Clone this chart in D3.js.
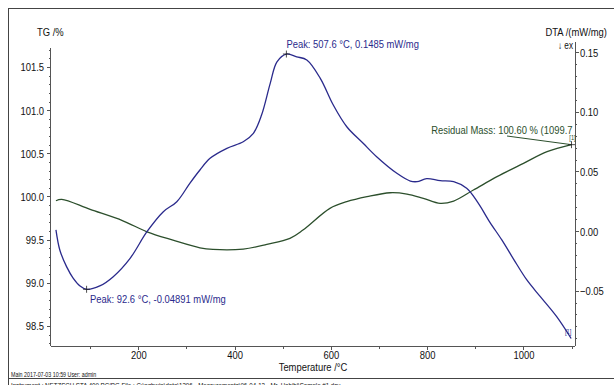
<!DOCTYPE html>
<html>
<head>
  <meta charset="utf-8">
  <script src="https://d3js.org/d3.v7.min.js"></script>
  <style>
    body { margin: 0; background: #fff; }
    text { font-family: 'Liberation Sans', Arial, sans-serif; }
    .axis path, .axis line { stroke: #555; shape-rendering: crispEdges; }
    .curve { fill: none; stroke-width: 1.3px; }
  </style>
</head>
<body>
<div id="chart"></div>
<script>

// TG curve (left axis, %)
var tgTemp = [29, 41, 100, 168, 218, 272, 328, 355, 418, 467, 515, 542, 598, 633, 675,
              723, 758, 792, 827, 855, 896, 945, 1000, 1049, 1099.7];
var tgMass = [99.95, 99.966, 99.85, 99.718, 99.59, 99.494, 99.405, 99.386, 99.39, 99.444,
              99.514, 99.61, 99.862, 99.939, 99.997, 100.043, 100.028, 99.978, 99.92, 99.947,
              100.074, 100.229, 100.384, 100.519, 100.60];

// DTA curve (right axis, mW/mg)
var dtaTemp = [29, 37, 51, 65, 79, 92.6, 120, 148, 183, 218, 252, 280, 307, 328, 349, 384,
               418, 439, 456, 474, 488, 507.6, 529, 550, 578, 605, 633, 667, 695, 737, 765,
               779, 799, 827, 855, 882, 905, 930, 955, 980, 1007, 1035, 1069, 1099];
var dtaVal  = [0.001, -0.0159, -0.0299, -0.0397, -0.0461, -0.04891, -0.0461, -0.0383, -0.0229,
               -0.0006, 0.0162, 0.0246, 0.040, 0.0512, 0.061, 0.0694, 0.0749, 0.082, 0.0973,
               0.1239, 0.142, 0.1485, 0.1462, 0.1435, 0.1281, 0.1057, 0.0875, 0.0736, 0.0623,
               0.0484, 0.0419, 0.0414, 0.0439, 0.0422, 0.0414, 0.0358, 0.024, 0.0075, -0.0075,
               -0.024, -0.0411, -0.0551, -0.0719, -0.0902];

// ticks
var tempTicks = [200, 400, 600, 800, 1000];
var tempMinor = [100, 300, 500, 700, 900, 1100];
var tgTicks = [98.5, 99.0, 99.5, 100.0, 100.5, 101.0, 101.5];
var dtaTicks = [-0.05, 0.00, 0.05, 0.10, 0.15];

// annotations
var peakHigh = { t: 507.6, v: 0.1485 };
var peakLow = { t: 92.6, v: -0.04891 };
var residual = { t: 1099.7, v: 100.60 };

var W = 614, H = 385, SX = 0.82;
var blue = "#2a2a8c", green = "#2c4f2c";

var svg = d3.select("#chart").append("svg")
    .attr("width", W).attr("height", H);

// x / y scales
var x = d3.scaleLinear().domain([18.7, 1107]).range([51, 575]);
var yTG = d3.scaleLinear().domain([98.267, 101.72]).range([346, 48]);
var yDTA = d3.scaleLinear().domain([-0.0965, 0.1586]).range([346, 42]);

// helper for the narrow-looking text
function label(g, px, py, str, anchor, size, color) {
  return g.append("text")
      .attr("transform", "translate(" + px + "," + py + ") scale(" + SX + ",1)")
      .attr("text-anchor", anchor || "start")
      .style("font-size", (size || 11.5) + "px")
      .attr("fill", color || "#111")
      .text(str);
}

// page frame
svg.append("line").attr("x1", 8).attr("x2", W).attr("y1", 8.5).attr("y2", 8.5)
    .attr("stroke", "#444");
svg.append("line").attr("x1", 8.5).attr("x2", 8.5).attr("y1", 8).attr("y2", H)
    .attr("stroke", "#444");
svg.append("line").attr("x1", 8).attr("x2", W).attr("y1", 378.5).attr("y2", 378.5)
    .attr("stroke", "#444");

// bottom axis
var gx = svg.append("g").attr("class", "axis")
    .attr("transform", "translate(0,346)")
    .call(d3.axisBottom(x).tickValues(tempTicks).tickSizeOuter(0).tickSizeInner(4)
      .tickFormat(d3.format("d")));
gx.select(".domain").attr("d", "M51,0.5H575");
gx.selectAll(".tick text").attr("y", null).attr("dy", null)
    .attr("transform", "translate(0,12.5) scale(" + SX + ",1)")
    .style("font-size", "11.5px").attr("fill", "#111");
svg.append("g").attr("class", "axis")
    .attr("transform", "translate(0,346)")
    .call(d3.axisBottom(x).tickValues(tempMinor).tickSizeOuter(0).tickSizeInner(3)
      .tickFormat(""))
    .select(".domain").remove();

// left axis (TG)
var gl = svg.append("g").attr("class", "axis")
    .attr("transform", "translate(51,0)")
    .call(d3.axisLeft(yTG).tickValues(tgTicks).tickSizeOuter(0).tickSizeInner(4)
      .tickFormat(d3.format(".1f")));
gl.select(".domain").attr("d", "M-0.5,48V346");
gl.selectAll(".tick text").attr("x", null).attr("dy", null)
    .attr("transform", "translate(-7,4) scale(" + SX + ",1)")
    .style("font-size", "11.5px").attr("fill", "#111");
svg.append("g").attr("class", "axis")
    .attr("transform", "translate(51,0)")
    .call(d3.axisLeft(yTG).tickValues(d3.range(983, 1018).map(function(d) { return d / 10; })
        .filter(function(d) { return Math.round(d * 10) % 5 !== 0; }))
      .tickSizeOuter(0).tickSizeInner(2).tickFormat(""))
    .select(".domain").remove();

// right axis (DTA)
var gr = svg.append("g").attr("class", "axis")
    .attr("transform", "translate(575,0)")
    .call(d3.axisRight(yDTA).tickValues(dtaTicks).tickSizeOuter(0).tickSizeInner(4)
      .tickFormat(d3.format(".2f")));
gr.select(".domain").attr("d", "M0.5,42V346");
gr.selectAll(".tick text").attr("x", null).attr("dy", null)
    .attr("transform", "translate(5,4) scale(" + SX + ",1)")
    .style("font-size", "11.5px").attr("fill", "#111");
svg.append("g").attr("class", "axis")
    .attr("transform", "translate(575,0)")
    .call(d3.axisRight(yDTA).tickValues(d3.range(-9, 16).map(function(d) { return d / 100; })
        .filter(function(d) { return Math.round(d * 100) % 5 !== 0; }))
      .tickSizeOuter(0).tickSizeInner(2).tickFormat(""))
    .select(".domain").remove();

// axis titles
label(svg, 37, 36, "TG /%");
label(svg, 607, 36, "DTA /(mW/mg)", "end");
label(svg, 573, 48.5, "\u2193 ex", "end", 10);
label(svg, 313, 370.5, "Temperature /\u00B0C", "middle", 11.5);

// curves
var tgLine = d3.line()
    .x(function(d, i) { return x(tgTemp[i]); })
    .y(function(d) { return yTG(d); })
    .curve(d3.curveCatmullRom);
var dtaLine = d3.line()
    .x(function(d, i) { return x(dtaTemp[i]); })
    .y(function(d) { return yDTA(d); })
    .curve(d3.curveCatmullRom);

svg.append("path").attr("class", "curve").attr("stroke", green).attr("d", tgLine(tgMass));
svg.append("path").attr("class", "curve").attr("stroke", blue).attr("d", dtaLine(dtaVal));

// cross markers
function cross(px, py) {
  svg.append("path")
      .attr("d", "M" + (px - 3.5) + "," + py + "h7M" + px + "," + (py - 3.5) + "v7")
      .attr("stroke", "#222").attr("stroke-width", 0.8);
}

cross(x(peakHigh.t), yDTA(peakHigh.v));
label(svg, x(peakHigh.t), yDTA(peakHigh.v) - 6,
    "Peak: " + peakHigh.t + " \u00B0C, " + peakHigh.v + " mW/mg", "start", 11.5, blue);

cross(x(peakLow.t), yDTA(peakLow.v));
label(svg, x(peakLow.t) + 3.5, yDTA(peakLow.v) + 14,
    "Peak: " + peakLow.t + " \u00B0C, " + peakLow.v + " mW/mg", "start", 11.5, blue);

var rx = x(residual.t), ry = yTG(residual.v);
svg.append("line").attr("x1", 507).attr("y1", 136).attr("x2", rx).attr("y2", ry)
    .attr("stroke", green).attr("stroke-width", 1);
cross(rx, ry);
label(svg, rx + 1, 134, "Residual Mass: " + residual.v.toFixed(2) + " % (" + residual.t,
    "end", 11.5, green);
label(svg, rx + 1, 139.5, "[1]", "middle", 7, green);
label(svg, x(dtaTemp[dtaTemp.length - 1]) - 3, yDTA(dtaVal[dtaVal.length - 1]) - 4,
    "[1]", "middle", 7, blue);

// footer
label(svg, 11, 377, "Main   2017-07-03 10:59   User: admin", "start", 6.5);
label(svg, 11, 388,
    "Instrument :   NETZSCH STA 409 PC/PG   File :   C:\\ngbwin\\data\\1396 - Measurements\\96-04-12 - Mr. Habibi\\Sample #1.dsv",
    "start", 7.5);

</script>
</body>
</html>
